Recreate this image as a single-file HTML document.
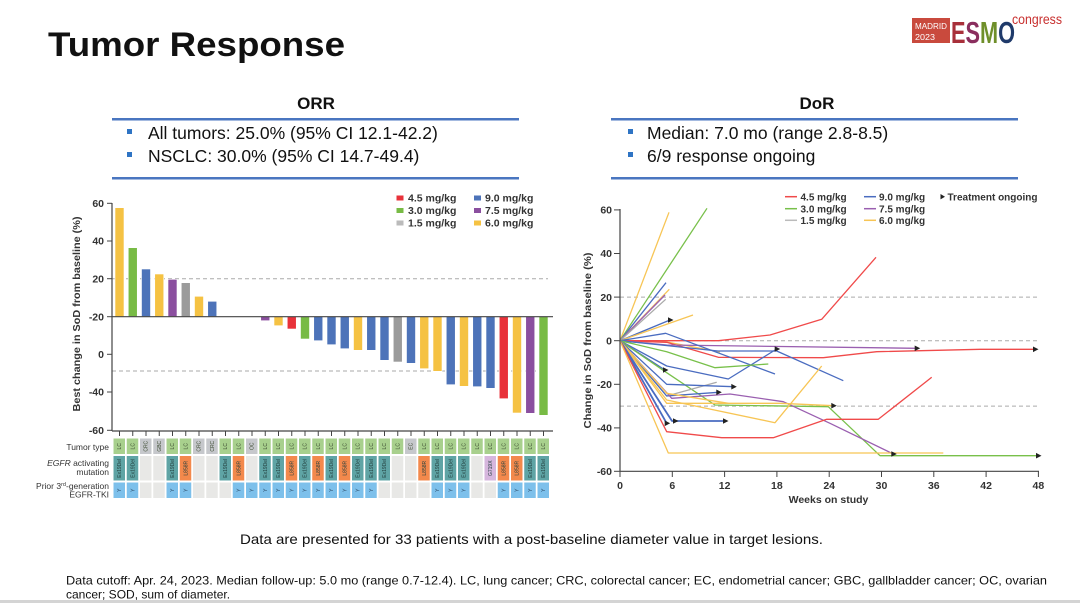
<!DOCTYPE html>
<html><head><meta charset="utf-8"><style>
html,body{margin:0;padding:0;background:#fff;}
svg{display:block;}
</style></head><body>
<svg width="1080" height="603" viewBox="0 0 1080 603" xmlns="http://www.w3.org/2000/svg" font-family="Liberation Sans, Arial, sans-serif">
<rect width="1080" height="603" fill="#fff"/>
<!-- Title -->
<text x="48" y="56" font-size="34" font-weight="bold" fill="#111" textLength="297" lengthAdjust="spacingAndGlyphs">Tumor Response</text>
<!-- Logo -->
<rect x="912" y="18" width="38" height="25" fill="#c94a3d"/>
<text x="915" y="29" font-size="8.5" fill="#fff" textLength="32" lengthAdjust="spacingAndGlyphs">MADRID</text>
<text x="915" y="40" font-size="8.5" fill="#fff" textLength="20" lengthAdjust="spacingAndGlyphs">2023</text>
<text x="951" y="43" font-size="31" font-weight="bold" textLength="64" lengthAdjust="spacingAndGlyphs"><tspan fill="#a8303a">E</tspan><tspan fill="#8a2e5e">S</tspan><tspan fill="#6f8f2a">M</tspan><tspan fill="#1f3a6a">O</tspan></text>
<text x="1012" y="24" font-size="14" fill="#c8302f" textLength="50" lengthAdjust="spacingAndGlyphs">congress</text>

<!-- ORR block -->
<text x="316" y="109" font-size="17" font-weight="bold" text-anchor="middle" fill="#111">ORR</text>
<rect x="112" y="118" width="407" height="2.5" fill="#4a76c0"/>
<rect x="127" y="129" width="5" height="5" fill="#2e74c4"/>
<text x="148" y="139" font-size="17.5" fill="#111">All tumors: 25.0% (95% CI 12.1-42.2)</text>
<rect x="127" y="152" width="5" height="5" fill="#2e74c4"/>
<text x="148" y="162" font-size="17.5" fill="#111">NSCLC: 30.0% (95% CI 14.7-49.4)</text>
<rect x="112" y="177" width="407" height="2.5" fill="#4a76c0"/>

<!-- DoR block -->
<text x="817" y="109" font-size="17" font-weight="bold" text-anchor="middle" fill="#111">DoR</text>
<rect x="611" y="118" width="407" height="2.5" fill="#4a76c0"/>
<rect x="628" y="129" width="5" height="5" fill="#2e74c4"/>
<text x="647" y="139" font-size="17.5" fill="#111">Median: 7.0 mo (range 2.8-8.5)</text>
<rect x="628" y="152" width="5" height="5" fill="#2e74c4"/>
<text x="647" y="162" font-size="17.5" fill="#111">6/9 response ongoing</text>
<rect x="611" y="177" width="407" height="2.5" fill="#4a76c0"/>

<!-- ============ LEFT CHART (waterfall) ============ -->
<g>
<!-- dashed lines -->
<line x1="112" y1="278.7" x2="548" y2="278.7" stroke="#aaa" stroke-width="1" stroke-dasharray="4,3"/>
<line x1="112" y1="371" x2="548" y2="371" stroke="#aaa" stroke-width="1" stroke-dasharray="4,3"/>
<!-- bars -->
<g stroke="#fff" stroke-width="0.6">
<rect x="115" y="207.7" width="9" height="109" fill="#f5c243"/>
<rect x="128.25" y="247.7" width="9" height="69" fill="#78bb45"/>
<rect x="141.5" y="269" width="9" height="47.7" fill="#4d73b9"/>
<rect x="154.75" y="274" width="9" height="42.7" fill="#f5c243"/>
<rect x="168" y="279.3" width="9" height="37.4" fill="#8b4f9f"/>
<rect x="181.25" y="282.7" width="9" height="34" fill="#9b9b9b"/>
<rect x="194.5" y="296.3" width="9" height="20.4" fill="#f5c243"/>
<rect x="207.75" y="301.3" width="9" height="15.4" fill="#4d73b9"/>
<rect x="260.75" y="316.7" width="9" height="4" fill="#8b4f9f"/>
<rect x="274" y="316.7" width="9" height="9" fill="#f5c243"/>
<rect x="287.25" y="316.7" width="9" height="12.3" fill="#e8323a"/>
<rect x="300.5" y="316.7" width="9" height="22.3" fill="#78bb45"/>
<rect x="313.75" y="316.7" width="9" height="24" fill="#4d73b9"/>
<rect x="327" y="316.7" width="9" height="28" fill="#4d73b9"/>
<rect x="340.25" y="316.7" width="9" height="32" fill="#4d73b9"/>
<rect x="353.5" y="316.7" width="9" height="33.6" fill="#f5c243"/>
<rect x="366.75" y="316.7" width="9" height="33.6" fill="#4d73b9"/>
<rect x="380" y="316.7" width="9" height="43.6" fill="#4d73b9"/>
<rect x="393.25" y="316.7" width="9" height="45.3" fill="#9b9b9b"/>
<rect x="406.5" y="316.7" width="9" height="46.6" fill="#4d73b9"/>
<rect x="419.75" y="316.7" width="9" height="52" fill="#f5c243"/>
<rect x="433" y="316.7" width="9" height="54.6" fill="#f5c243"/>
<rect x="446.25" y="316.7" width="9" height="68" fill="#4d73b9"/>
<rect x="459.5" y="316.7" width="9" height="69.6" fill="#f5c243"/>
<rect x="472.75" y="316.7" width="9" height="70" fill="#4d73b9"/>
<rect x="486" y="316.7" width="9" height="71.6" fill="#4d73b9"/>
<rect x="499.25" y="316.7" width="9" height="82" fill="#e8323a"/>
<rect x="512.5" y="316.7" width="9" height="96.3" fill="#f5c243"/>
<rect x="525.75" y="316.7" width="9" height="96.6" fill="#8b4f9f"/>
<rect x="539" y="316.7" width="9" height="98.6" fill="#78bb45"/>
</g>
<!-- zero line -->
<line x1="112" y1="316.7" x2="553" y2="316.7" stroke="#444" stroke-width="1.2"/>
<!-- axes -->
<line x1="112" y1="203" x2="112" y2="431" stroke="#444" stroke-width="1.2"/>
<line x1="112" y1="431" x2="553" y2="431" stroke="#444" stroke-width="1.2"/>
<g stroke="#444" stroke-width="1">
<line x1="107" y1="203.3" x2="112" y2="203.3"/>
<line x1="107" y1="241" x2="112" y2="241"/>
<line x1="107" y1="278.7" x2="112" y2="278.7"/>
<line x1="107" y1="316.7" x2="112" y2="316.7"/>
<line x1="107" y1="354.3" x2="112" y2="354.3"/>
<line x1="107" y1="392" x2="112" y2="392"/>
<line x1="107" y1="430.3" x2="112" y2="430.3"/>
</g>
<g stroke="#444" stroke-width="1">
<line x1="119.5" y1="431" x2="119.5" y2="436"/><line x1="132.75" y1="431" x2="132.75" y2="436"/><line x1="146" y1="431" x2="146" y2="436"/><line x1="159.25" y1="431" x2="159.25" y2="436"/><line x1="172.5" y1="431" x2="172.5" y2="436"/><line x1="185.75" y1="431" x2="185.75" y2="436"/><line x1="199" y1="431" x2="199" y2="436"/><line x1="212.25" y1="431" x2="212.25" y2="436"/><line x1="225.5" y1="431" x2="225.5" y2="436"/><line x1="238.75" y1="431" x2="238.75" y2="436"/><line x1="252" y1="431" x2="252" y2="436"/><line x1="265.25" y1="431" x2="265.25" y2="436"/><line x1="278.5" y1="431" x2="278.5" y2="436"/><line x1="291.75" y1="431" x2="291.75" y2="436"/><line x1="305" y1="431" x2="305" y2="436"/><line x1="318.25" y1="431" x2="318.25" y2="436"/><line x1="331.5" y1="431" x2="331.5" y2="436"/><line x1="344.75" y1="431" x2="344.75" y2="436"/><line x1="358" y1="431" x2="358" y2="436"/><line x1="371.25" y1="431" x2="371.25" y2="436"/><line x1="384.5" y1="431" x2="384.5" y2="436"/><line x1="397.75" y1="431" x2="397.75" y2="436"/><line x1="411" y1="431" x2="411" y2="436"/><line x1="424.25" y1="431" x2="424.25" y2="436"/><line x1="437.5" y1="431" x2="437.5" y2="436"/><line x1="450.75" y1="431" x2="450.75" y2="436"/><line x1="464" y1="431" x2="464" y2="436"/><line x1="477.25" y1="431" x2="477.25" y2="436"/><line x1="490.5" y1="431" x2="490.5" y2="436"/><line x1="503.75" y1="431" x2="503.75" y2="436"/><line x1="517" y1="431" x2="517" y2="436"/><line x1="530.25" y1="431" x2="530.25" y2="436"/><line x1="543.5" y1="431" x2="543.5" y2="436"/>
</g>
<!-- y tick labels -->
<g font-size="10.5" font-weight="bold" fill="#333" text-anchor="end">
<text x="104" y="207">60</text>
<text x="104" y="244.7">40</text>
<text x="104" y="282.4">20</text>
<text x="104" y="320.4">-20</text>
<text x="104" y="358">0</text>
<text x="104" y="395.7">-40</text>
<text x="104" y="434">-60</text>
</g>
<text transform="translate(80,314) rotate(-90)" font-size="10.5" font-weight="bold" fill="#333" text-anchor="middle" textLength="195" lengthAdjust="spacingAndGlyphs">Best change in SoD from baseline (%)</text>
<!-- legend -->
<g font-size="10.5" font-weight="bold" fill="#333">
<rect x="396.5" y="195.5" width="7" height="5" fill="#e8323a"/><text x="408" y="201.5">4.5 mg/kg</text>
<rect x="396.5" y="208" width="7" height="5" fill="#78bb45"/><text x="408" y="214">3.0 mg/kg</text>
<rect x="396.5" y="220.5" width="7" height="5" fill="#bbb"/><text x="408" y="226.5">1.5 mg/kg</text>
<rect x="474" y="195.5" width="7" height="5" fill="#4d73b9"/><text x="485" y="201.5">9.0 mg/kg</text>
<rect x="474" y="208" width="7" height="5" fill="#8b4f9f"/><text x="485" y="214">7.5 mg/kg</text>
<rect x="474" y="220.5" width="7" height="5" fill="#f5c243"/><text x="485" y="226.5">6.0 mg/kg</text>
</g>
<!-- table labels -->
<g font-size="8.5" fill="#333" text-anchor="end">
<text x="109" y="450">Tumor type</text>
<text x="109" y="466"><tspan font-style="italic">EGFR</tspan> activating</text>
<text x="109" y="475">mutation</text>
<text x="109" y="489">Prior 3<tspan font-size="5.5" dy="-3">rd</tspan><tspan dy="3">-generation</tspan></text>
<text x="109" y="497.5">EGFR-TKI</text>
</g>
<!-- tumor type row -->
<g>
<rect x="113.5" y="438.5" width="11.5" height="15.5" fill="#a8d08d"/>
<rect x="126.75" y="438.5" width="11.5" height="15.5" fill="#a8d08d"/>
<rect x="140" y="438.5" width="11.5" height="15.5" fill="#c6c8cc"/>
<rect x="153.25" y="438.5" width="11.5" height="15.5" fill="#c6c8cc"/>
<rect x="166.5" y="438.5" width="11.5" height="15.5" fill="#a8d08d"/>
<rect x="179.75" y="438.5" width="11.5" height="15.5" fill="#a8d08d"/>
<rect x="193" y="438.5" width="11.5" height="15.5" fill="#c6c8cc"/>
<rect x="206.25" y="438.5" width="11.5" height="15.5" fill="#c6c8cc"/>
<rect x="219.5" y="438.5" width="11.5" height="15.5" fill="#a8d08d"/>
<rect x="232.75" y="438.5" width="11.5" height="15.5" fill="#a8d08d"/>
<rect x="246" y="438.5" width="11.5" height="15.5" fill="#c6c8cc"/>
<rect x="259.25" y="438.5" width="11.5" height="15.5" fill="#a8d08d"/>
<rect x="272.5" y="438.5" width="11.5" height="15.5" fill="#a8d08d"/>
<rect x="285.75" y="438.5" width="11.5" height="15.5" fill="#a8d08d"/>
<rect x="299" y="438.5" width="11.5" height="15.5" fill="#a8d08d"/>
<rect x="312.25" y="438.5" width="11.5" height="15.5" fill="#a8d08d"/>
<rect x="325.5" y="438.5" width="11.5" height="15.5" fill="#a8d08d"/>
<rect x="338.75" y="438.5" width="11.5" height="15.5" fill="#a8d08d"/>
<rect x="352" y="438.5" width="11.5" height="15.5" fill="#a8d08d"/>
<rect x="365.25" y="438.5" width="11.5" height="15.5" fill="#a8d08d"/>
<rect x="378.5" y="438.5" width="11.5" height="15.5" fill="#a8d08d"/>
<rect x="391.75" y="438.5" width="11.5" height="15.5" fill="#a8d08d"/>
<rect x="405" y="438.5" width="11.5" height="15.5" fill="#c6c8cc"/>
<rect x="418.25" y="438.5" width="11.5" height="15.5" fill="#a8d08d"/>
<rect x="431.5" y="438.5" width="11.5" height="15.5" fill="#a8d08d"/>
<rect x="444.75" y="438.5" width="11.5" height="15.5" fill="#a8d08d"/>
<rect x="458" y="438.5" width="11.5" height="15.5" fill="#a8d08d"/>
<rect x="471.25" y="438.5" width="11.5" height="15.5" fill="#a8d08d"/>
<rect x="484.5" y="438.5" width="11.5" height="15.5" fill="#a8d08d"/>
<rect x="497.75" y="438.5" width="11.5" height="15.5" fill="#a8d08d"/>
<rect x="511" y="438.5" width="11.5" height="15.5" fill="#a8d08d"/>
<rect x="524.25" y="438.5" width="11.5" height="15.5" fill="#a8d08d"/>
<rect x="537.5" y="438.5" width="11.5" height="15.5" fill="#a8d08d"/>
</g>
<g font-size="5" fill="#3b4a30" text-anchor="middle">
<text transform="translate(121.2,446.25) rotate(-90)">LC</text>
<text transform="translate(134.5,446.25) rotate(-90)">LC</text>
<text transform="translate(147.7,446.25) rotate(-90)">CRC</text>
<text transform="translate(161,446.25) rotate(-90)">GBC</text>
<text transform="translate(174.2,446.25) rotate(-90)">LC</text>
<text transform="translate(187.5,446.25) rotate(-90)">LC</text>
<text transform="translate(200.7,446.25) rotate(-90)">CRC</text>
<text transform="translate(214,446.25) rotate(-90)">CRC</text>
<text transform="translate(227.2,446.25) rotate(-90)">LC</text>
<text transform="translate(240.5,446.25) rotate(-90)">LC</text>
<text transform="translate(253.7,446.25) rotate(-90)">OC</text>
<text transform="translate(267,446.25) rotate(-90)">LC</text>
<text transform="translate(280.2,446.25) rotate(-90)">LC</text>
<text transform="translate(293.5,446.25) rotate(-90)">LC</text>
<text transform="translate(306.7,446.25) rotate(-90)">LC</text>
<text transform="translate(320,446.25) rotate(-90)">LC</text>
<text transform="translate(333.2,446.25) rotate(-90)">LC</text>
<text transform="translate(346.5,446.25) rotate(-90)">LC</text>
<text transform="translate(359.7,446.25) rotate(-90)">LC</text>
<text transform="translate(373,446.25) rotate(-90)">LC</text>
<text transform="translate(386.2,446.25) rotate(-90)">LC</text>
<text transform="translate(399.5,446.25) rotate(-90)">LC</text>
<text transform="translate(412.7,446.25) rotate(-90)">EC</text>
<text transform="translate(426,446.25) rotate(-90)">LC</text>
<text transform="translate(439.2,446.25) rotate(-90)">LC</text>
<text transform="translate(452.5,446.25) rotate(-90)">LC</text>
<text transform="translate(465.7,446.25) rotate(-90)">LC</text>
<text transform="translate(479,446.25) rotate(-90)">LC</text>
<text transform="translate(492.2,446.25) rotate(-90)">LC</text>
<text transform="translate(505.5,446.25) rotate(-90)">LC</text>
<text transform="translate(518.7,446.25) rotate(-90)">LC</text>
<text transform="translate(532,446.25) rotate(-90)">LC</text>
<text transform="translate(545.2,446.25) rotate(-90)">LC</text>
</g>
<!-- mutation row -->
<g>
<rect x="113.5" y="456" width="11.5" height="24.5" fill="#5fa4a5"/>
<rect x="126.75" y="456" width="11.5" height="24.5" fill="#5fa4a5"/>
<rect x="140" y="456" width="11.5" height="24.5" fill="#e8e8e6"/>
<rect x="153.25" y="456" width="11.5" height="24.5" fill="#e8e8e6"/>
<rect x="166.5" y="456" width="11.5" height="24.5" fill="#5fa4a5"/>
<rect x="179.75" y="456" width="11.5" height="24.5" fill="#f3894c"/>
<rect x="193" y="456" width="11.5" height="24.5" fill="#e8e8e6"/>
<rect x="206.25" y="456" width="11.5" height="24.5" fill="#e8e8e6"/>
<rect x="219.5" y="456" width="11.5" height="24.5" fill="#5fa4a5"/>
<rect x="232.75" y="456" width="11.5" height="24.5" fill="#f3894c"/>
<rect x="246" y="456" width="11.5" height="24.5" fill="#e8e8e6"/>
<rect x="259.25" y="456" width="11.5" height="24.5" fill="#5fa4a5"/>
<rect x="272.5" y="456" width="11.5" height="24.5" fill="#5fa4a5"/>
<rect x="285.75" y="456" width="11.5" height="24.5" fill="#f3894c"/>
<rect x="299" y="456" width="11.5" height="24.5" fill="#5fa4a5"/>
<rect x="312.25" y="456" width="11.5" height="24.5" fill="#f3894c"/>
<rect x="325.5" y="456" width="11.5" height="24.5" fill="#5fa4a5"/>
<rect x="338.75" y="456" width="11.5" height="24.5" fill="#f3894c"/>
<rect x="352" y="456" width="11.5" height="24.5" fill="#5fa4a5"/>
<rect x="365.25" y="456" width="11.5" height="24.5" fill="#5fa4a5"/>
<rect x="378.5" y="456" width="11.5" height="24.5" fill="#5fa4a5"/>
<rect x="391.75" y="456" width="11.5" height="24.5" fill="#e8e8e6"/>
<rect x="405" y="456" width="11.5" height="24.5" fill="#e8e8e6"/>
<rect x="418.25" y="456" width="11.5" height="24.5" fill="#f3894c"/>
<rect x="431.5" y="456" width="11.5" height="24.5" fill="#5fa4a5"/>
<rect x="444.75" y="456" width="11.5" height="24.5" fill="#5fa4a5"/>
<rect x="458" y="456" width="11.5" height="24.5" fill="#5fa4a5"/>
<rect x="471.25" y="456" width="11.5" height="24.5" fill="#e8e8e6"/>
<rect x="484.5" y="456" width="11.5" height="24.5" fill="#d6b6dd"/>
<rect x="497.75" y="456" width="11.5" height="24.5" fill="#f3894c"/>
<rect x="511" y="456" width="11.5" height="24.5" fill="#f3894c"/>
<rect x="524.25" y="456" width="11.5" height="24.5" fill="#5fa4a5"/>
<rect x="537.5" y="456" width="11.5" height="24.5" fill="#5fa4a5"/>
</g>
<g font-size="5" fill="#24403f" text-anchor="middle">
<text transform="translate(121.2,468.25) rotate(-90)">Ex19Del</text>
<text transform="translate(134.5,468.25) rotate(-90)">Ex19Del</text>
<text transform="translate(174.2,468.25) rotate(-90)">Ex19Del</text>
<text transform="translate(187.5,468.25) rotate(-90)">L858R</text>
<text transform="translate(227.2,468.25) rotate(-90)">Ex19Del</text>
<text transform="translate(240.5,468.25) rotate(-90)">L858R</text>
<text transform="translate(267,468.25) rotate(-90)">Ex19Del</text>
<text transform="translate(280.2,468.25) rotate(-90)">Ex19Del</text>
<text transform="translate(293.5,468.25) rotate(-90)">L858R</text>
<text transform="translate(306.7,468.25) rotate(-90)">Ex19Del</text>
<text transform="translate(320,468.25) rotate(-90)">L858R</text>
<text transform="translate(333.2,468.25) rotate(-90)">Ex19Del</text>
<text transform="translate(346.5,468.25) rotate(-90)">L858R</text>
<text transform="translate(359.7,468.25) rotate(-90)">Ex19Del</text>
<text transform="translate(373,468.25) rotate(-90)">Ex19Del</text>
<text transform="translate(386.2,468.25) rotate(-90)">Ex19Del</text>
<text transform="translate(426,468.25) rotate(-90)">L858R</text>
<text transform="translate(439.2,468.25) rotate(-90)">Ex19Del</text>
<text transform="translate(452.5,468.25) rotate(-90)">Ex19Del</text>
<text transform="translate(465.7,468.25) rotate(-90)">Ex19Del</text>
<text transform="translate(492.2,468.25) rotate(-90)">G719X</text>
<text transform="translate(505.5,468.25) rotate(-90)">L858R</text>
<text transform="translate(518.7,468.25) rotate(-90)">L858R</text>
<text transform="translate(532,468.25) rotate(-90)">Ex19Del</text>
<text transform="translate(545.2,468.25) rotate(-90)">Ex19Del</text>
</g>
<!-- TKI row -->
<g>
<rect x="113.5" y="482.5" width="11.5" height="15.5" fill="#7dc0eb"/>
<rect x="126.75" y="482.5" width="11.5" height="15.5" fill="#7dc0eb"/>
<rect x="140" y="482.5" width="11.5" height="15.5" fill="#e8e8e6"/>
<rect x="153.25" y="482.5" width="11.5" height="15.5" fill="#e8e8e6"/>
<rect x="166.5" y="482.5" width="11.5" height="15.5" fill="#7dc0eb"/>
<rect x="179.75" y="482.5" width="11.5" height="15.5" fill="#7dc0eb"/>
<rect x="193" y="482.5" width="11.5" height="15.5" fill="#e8e8e6"/>
<rect x="206.25" y="482.5" width="11.5" height="15.5" fill="#e8e8e6"/>
<rect x="219.5" y="482.5" width="11.5" height="15.5" fill="#e8e8e6"/>
<rect x="232.75" y="482.5" width="11.5" height="15.5" fill="#7dc0eb"/>
<rect x="246" y="482.5" width="11.5" height="15.5" fill="#7dc0eb"/>
<rect x="259.25" y="482.5" width="11.5" height="15.5" fill="#7dc0eb"/>
<rect x="272.5" y="482.5" width="11.5" height="15.5" fill="#7dc0eb"/>
<rect x="285.75" y="482.5" width="11.5" height="15.5" fill="#7dc0eb"/>
<rect x="299" y="482.5" width="11.5" height="15.5" fill="#7dc0eb"/>
<rect x="312.25" y="482.5" width="11.5" height="15.5" fill="#7dc0eb"/>
<rect x="325.5" y="482.5" width="11.5" height="15.5" fill="#7dc0eb"/>
<rect x="338.75" y="482.5" width="11.5" height="15.5" fill="#7dc0eb"/>
<rect x="352" y="482.5" width="11.5" height="15.5" fill="#7dc0eb"/>
<rect x="365.25" y="482.5" width="11.5" height="15.5" fill="#7dc0eb"/>
<rect x="378.5" y="482.5" width="11.5" height="15.5" fill="#e8e8e6"/>
<rect x="391.75" y="482.5" width="11.5" height="15.5" fill="#e8e8e6"/>
<rect x="405" y="482.5" width="11.5" height="15.5" fill="#e8e8e6"/>
<rect x="418.25" y="482.5" width="11.5" height="15.5" fill="#e8e8e6"/>
<rect x="431.5" y="482.5" width="11.5" height="15.5" fill="#7dc0eb"/>
<rect x="444.75" y="482.5" width="11.5" height="15.5" fill="#7dc0eb"/>
<rect x="458" y="482.5" width="11.5" height="15.5" fill="#7dc0eb"/>
<rect x="471.25" y="482.5" width="11.5" height="15.5" fill="#e8e8e6"/>
<rect x="484.5" y="482.5" width="11.5" height="15.5" fill="#e8e8e6"/>
<rect x="497.75" y="482.5" width="11.5" height="15.5" fill="#7dc0eb"/>
<rect x="511" y="482.5" width="11.5" height="15.5" fill="#7dc0eb"/>
<rect x="524.25" y="482.5" width="11.5" height="15.5" fill="#7dc0eb"/>
<rect x="537.5" y="482.5" width="11.5" height="15.5" fill="#7dc0eb"/>
</g>
<g font-size="5" fill="#2a4a66" text-anchor="middle">
<text transform="translate(121.2,490.25) rotate(-90)">Y</text>
<text transform="translate(134.5,490.25) rotate(-90)">Y</text>
<text transform="translate(174.2,490.25) rotate(-90)">Y</text>
<text transform="translate(187.5,490.25) rotate(-90)">Y</text>
<text transform="translate(240.5,490.25) rotate(-90)">Y</text>
<text transform="translate(253.7,490.25) rotate(-90)">Y</text>
<text transform="translate(267,490.25) rotate(-90)">Y</text>
<text transform="translate(280.2,490.25) rotate(-90)">Y</text>
<text transform="translate(293.5,490.25) rotate(-90)">Y</text>
<text transform="translate(306.7,490.25) rotate(-90)">Y</text>
<text transform="translate(320,490.25) rotate(-90)">Y</text>
<text transform="translate(333.2,490.25) rotate(-90)">Y</text>
<text transform="translate(346.5,490.25) rotate(-90)">Y</text>
<text transform="translate(359.7,490.25) rotate(-90)">Y</text>
<text transform="translate(373,490.25) rotate(-90)">Y</text>
<text transform="translate(439.2,490.25) rotate(-90)">Y</text>
<text transform="translate(452.5,490.25) rotate(-90)">Y</text>
<text transform="translate(465.7,490.25) rotate(-90)">Y</text>
<text transform="translate(505.5,490.25) rotate(-90)">Y</text>
<text transform="translate(518.7,490.25) rotate(-90)">Y</text>
<text transform="translate(532,490.25) rotate(-90)">Y</text>
<text transform="translate(545.2,490.25) rotate(-90)">Y</text>
</g>
</g>

<!-- ============ RIGHT CHART (spider) ============ -->
<g>
<line x1="620" y1="297.1" x2="1038" y2="297.1" stroke="#aaa" stroke-width="1" stroke-dasharray="4,3"/>
<line x1="620" y1="340.7" x2="1038" y2="340.7" stroke="#aaa" stroke-width="1" stroke-dasharray="4,3"/>
<line x1="620" y1="406.1" x2="1038" y2="406.1" stroke="#aaa" stroke-width="1" stroke-dasharray="4,3"/>
<g fill="none" stroke-width="1.3" stroke-linejoin="round">
<polyline stroke="#f7c555" points="620,340.7 669,212.3"/>
<polyline stroke="#78c04a" points="620,340.7 707,208.3"/>
<polyline stroke="#4a6cc0" points="620,340.7 666,282.7"/>
<polyline stroke="#f7c555" points="620,340.7 669.3,289.3"/>
<polyline stroke="#9a5fb0" points="620,340.7 665,295"/>
<polyline stroke="#aaaaaa" points="620,340.7 665.7,299.3"/>
<polyline stroke="#4a6cc0" points="620,340.7 670,320"/>
<polyline stroke="#f7c555" points="620,340.7 693,315"/>
<polyline stroke="#f7c555" points="620,340.7 667,342 720,352"/>
<polyline stroke="#f04a4a" points="620,340.7 666.7,340.7 718.3,340.7 770,335 821.7,319.3 876,257.3"/>
<polyline stroke="#f04a4a" points="620,340.7 666.7,342.3 718.3,357.3 823.3,357.7 876.7,351.7 980,349.3 1035,349.3"/>
<polyline stroke="#9a5fb0" points="620,340.7 666.7,345 916.7,348.3"/>
<polyline stroke="#4a6cc0" points="620,340.7 665.7,333.3 775,374"/>
<polyline stroke="#4a6cc0" points="620,340.7 666.7,366 728.3,379 776.7,349"/>
<polyline stroke="#4a6cc0" points="620,340.7 718,351 776.7,351 843.3,380.7"/>
<polyline stroke="#78c04a" points="620,340.7 666.7,351.7 715,367.7 768.3,364"/>
<polyline stroke="#4a6cc0" points="620,340.7 665,370"/>
<polyline stroke="#78c04a" points="620,340.7 666.7,372.7 715,405 828.3,406.7 880,455.7 1038,455.7"/>
<polyline stroke="#aaaaaa" points="620,340.7 666.7,396 716.7,382.3"/>
<polyline stroke="#4a6cc0" points="620,340.7 666.7,384.3 733.3,386.7"/>
<polyline stroke="#4a6cc0" points="620,340.7 666.7,396 718.3,392.3"/>
<polyline stroke="#9a5fb0" points="620,340.7 671.7,398.3 730,394 783.3,401.7 830,423.3 893.3,454"/>
<polyline stroke="#f7c555" points="620,340.7 666.7,393.3 728.3,403.3"/>
<polyline stroke="#f7c555" points="620,340.7 666.7,400 775,422.7 821.7,366"/>
<polyline stroke="#f7c555" points="620,340.7 666.7,403.3 780,403.3 833.3,405.7"/>
<polyline stroke="#4a6cc0" stroke-width="1.8" points="620,340.7 672,421 725,421"/>
<polyline stroke="#4a6cc0" stroke-width="1.8" points="620,340.7 666.7,423.3"/>
<polyline stroke="#f04a4a" points="620,340.7 666.7,431.7 721.7,437.7 773.3,437.7 826.7,419.3 878.3,419.3 931.7,377.3"/>
<polyline stroke="#f7c555" points="620,340.7 668.3,453 943.3,453"/>
</g>
<!-- arrows -->
<g fill="#222">
<polygon points="668,317.2 673.5,320 668,322.8"/>
<polygon points="1033,346.5 1038.5,349.3 1033,352.1"/>
<polygon points="914.7,345.5 920.2,348.3 914.7,351.1"/>
<polygon points="774.7,346.2 780.2,349 774.7,351.8"/>
<polygon points="663,367.2 668.5,370 663,372.8"/>
<polygon points="1036,452.9 1041.5,455.7 1036,458.5"/>
<polygon points="731.3,383.9 736.8,386.7 731.3,389.5"/>
<polygon points="716.3,389.5 721.8,392.3 716.3,395.1"/>
<polygon points="891.3,451.2 896.8,454 891.3,456.8"/>
<polygon points="831.3,402.9 836.8,405.7 831.3,408.5"/>
<polygon points="723,418.2 728.5,421 723,423.8"/>
<polygon points="673,418.2 678.5,421 673,423.8"/>
<polygon points="664.7,420.5 670.2,423.3 664.7,426.1"/>
</g>
<!-- axes -->
<line x1="620" y1="209" x2="620" y2="471.3" stroke="#444" stroke-width="1.2"/>
<line x1="620" y1="471.3" x2="1039" y2="471.3" stroke="#444" stroke-width="1.2"/>
<g stroke="#444" stroke-width="1">
<line x1="614" y1="209.9" x2="620" y2="209.9"/>
<line x1="614" y1="253.5" x2="620" y2="253.5"/>
<line x1="614" y1="297.1" x2="620" y2="297.1"/>
<line x1="614" y1="340.7" x2="620" y2="340.7"/>
<line x1="614" y1="384.3" x2="620" y2="384.3"/>
<line x1="614" y1="427.9" x2="620" y2="427.9"/>
<line x1="614" y1="471.3" x2="620" y2="471.3"/>
<line x1="620" y1="471.3" x2="620" y2="477"/>
<line x1="672.3" y1="471.3" x2="672.3" y2="477"/>
<line x1="724.6" y1="471.3" x2="724.6" y2="477"/>
<line x1="776.9" y1="471.3" x2="776.9" y2="477"/>
<line x1="829.2" y1="471.3" x2="829.2" y2="477"/>
<line x1="881.5" y1="471.3" x2="881.5" y2="477"/>
<line x1="933.8" y1="471.3" x2="933.8" y2="477"/>
<line x1="986.1" y1="471.3" x2="986.1" y2="477"/>
<line x1="1038.4" y1="471.3" x2="1038.4" y2="477"/>
</g>
<g font-size="10.5" font-weight="bold" fill="#333" text-anchor="end">
<text x="612" y="213.6">60</text>
<text x="612" y="257.2">40</text>
<text x="612" y="300.8">20</text>
<text x="612" y="344.4">0</text>
<text x="612" y="388">-20</text>
<text x="612" y="431.6">-40</text>
<text x="612" y="475">-60</text>
</g>
<g font-size="10.5" font-weight="bold" fill="#333" text-anchor="middle">
<text x="620" y="489">0</text>
<text x="672.3" y="489">6</text>
<text x="724.6" y="489">12</text>
<text x="776.9" y="489">18</text>
<text x="829.2" y="489">24</text>
<text x="881.5" y="489">30</text>
<text x="933.8" y="489">36</text>
<text x="986.1" y="489">42</text>
<text x="1038.4" y="489">48</text>
<text x="828.5" y="503">Weeks on study</text>
</g>
<text transform="translate(591,340.5) rotate(-90)" font-size="10.5" font-weight="bold" fill="#333" text-anchor="middle" textLength="176" lengthAdjust="spacingAndGlyphs">Change in SoD from baseline (%)</text>
<!-- legend -->
<g stroke-width="1.5">
<line x1="785" y1="196.7" x2="797" y2="196.7" stroke="#f04a4a"/>
<line x1="785" y1="208.7" x2="797" y2="208.7" stroke="#78c04a"/>
<line x1="785" y1="220.3" x2="797" y2="220.3" stroke="#bbbbbb"/>
<line x1="864" y1="196.7" x2="876" y2="196.7" stroke="#4a6cc0"/>
<line x1="864" y1="208.7" x2="876" y2="208.7" stroke="#9a5fb0"/>
<line x1="864" y1="220.3" x2="876" y2="220.3" stroke="#f7c555"/>
</g>
<g font-size="10" font-weight="bold" fill="#333">
<text x="800.5" y="200.3">4.5 mg/kg</text>
<text x="800.5" y="212.3">3.0 mg/kg</text>
<text x="800.5" y="223.9">1.5 mg/kg</text>
<text x="879" y="200.3">9.0 mg/kg</text>
<text x="879" y="212.3">7.5 mg/kg</text>
<text x="879" y="223.9">6.0 mg/kg</text>
<text x="947.5" y="200.3">Treatment ongoing</text>
</g>
<polygon points="940.5,194 945,196.7 940.5,199.4" fill="#222"/>
</g>

<!-- Bottom text -->
<text x="240" y="544" font-size="14" fill="#111" textLength="583" lengthAdjust="spacingAndGlyphs">Data are presented for 33 patients with a post-baseline diameter value in target lesions.</text>
<text x="66" y="584.5" font-size="12" fill="#111" textLength="981" lengthAdjust="spacingAndGlyphs">Data cutoff: Apr. 24, 2023. Median follow-up: 5.0 mo (range 0.7-12.4). LC, lung cancer; CRC, colorectal cancer; EC, endometrial cancer; GBC, gallbladder cancer; OC, ovarian</text>
<text x="66" y="598.5" font-size="12" fill="#111">cancer; SOD, sum of diameter.</text>
<rect x="0" y="600" width="1080" height="3" fill="#d4d4d4"/>
</svg>
</body></html>
